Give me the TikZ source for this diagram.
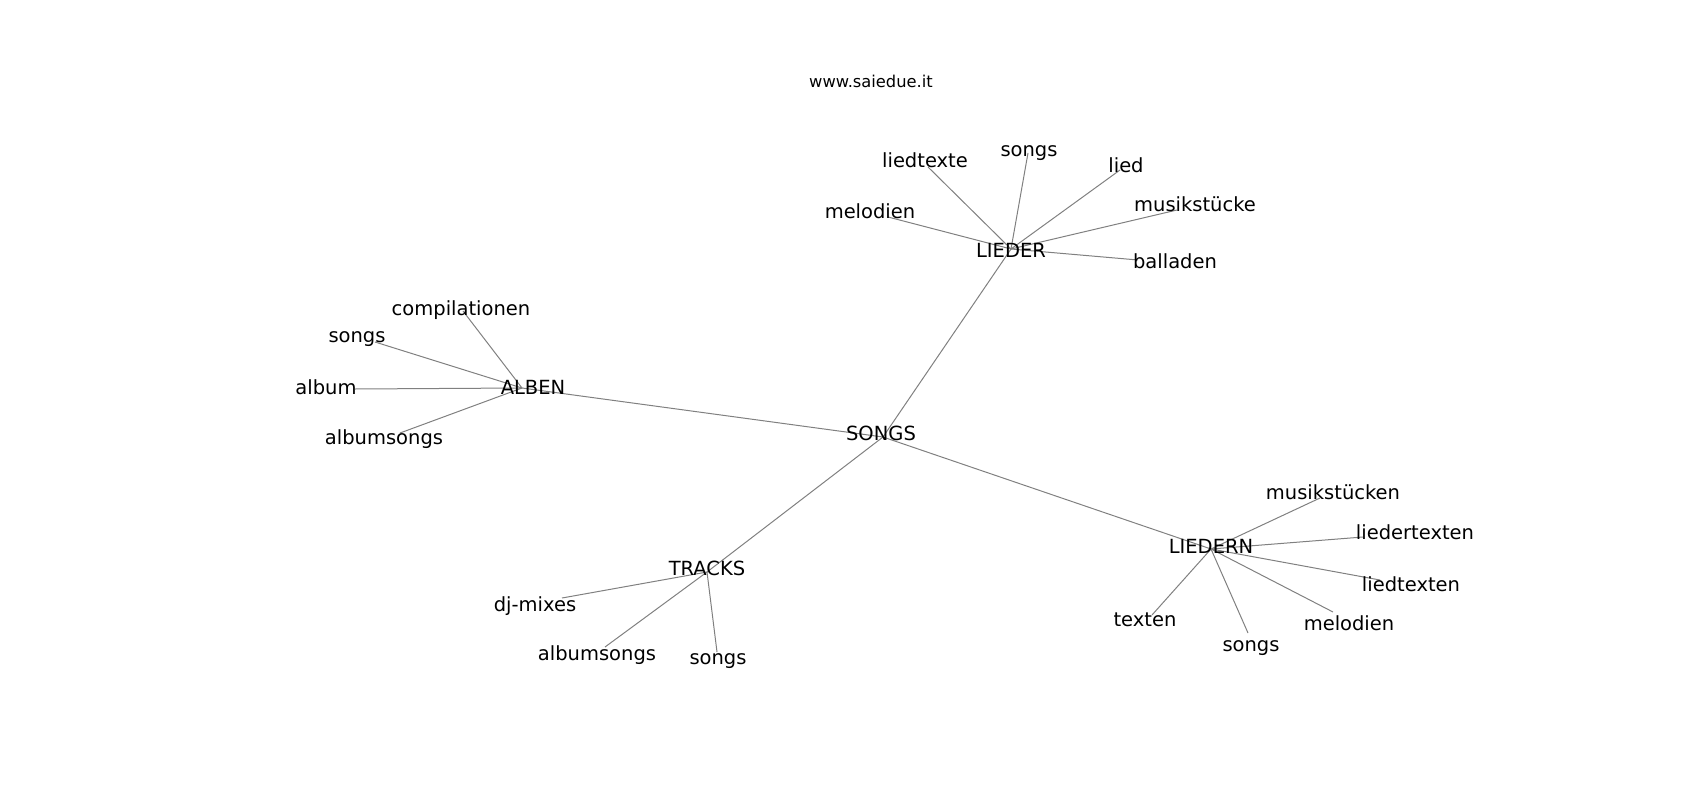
\documentclass[tikz,border=0pt]{standalone}
\usepackage{fontspec}
\setmainfont{DejaVu Sans}
\tikzstyle{word} = [inner sep=0pt, text height=14.8pt, text depth=0pt, font=\fontsize{19.5}{23}\selectfont]
\tikzstyle{title} = [inner sep=0pt, font=\fontsize{16.3}{19}\selectfont]
\tikzstyle{edge} = [draw=black!50, line width=1pt]

\begin{document}
\begin{tikzpicture}[x=1pt, y=-1pt]
        \useasboundingbox (0,0) rectangle (1700,800);
        \node (site) at (871,81) [title] {www.saiedue.it};
        % Graph points
        \coordinate (songs) at (883,437);
        \coordinate (lieder) at (1011,249);
        \coordinate (alben) at (522,388);
        \coordinate (tracks) at (707,572);
        \coordinate (liedern) at (1211,549);
        \coordinate (l1) at (928,167);
        \coordinate (l2) at (1028,153);
        \coordinate (l3) at (1120,170);
        \coordinate (l4) at (1177,210);
        \coordinate (l5) at (1138,260);
        \coordinate (l6) at (888,217);
        \coordinate (a1) at (463,311);
        \coordinate (a2) at (375,342);
        \coordinate (a3) at (355,389);
        \coordinate (a4) at (400,433);
        \coordinate (t1) at (562,598);
        \coordinate (t2) at (605,647);
        \coordinate (t3) at (717,652);
        \coordinate (n1) at (1320,498);
        \coordinate (n2) at (1363,537);
        \coordinate (n3) at (1380,580);
        \coordinate (n4) at (1333,612);
        \coordinate (n5) at (1248,633);
        \coordinate (n6) at (1152,615);
        \foreach \a/\b in {songs/lieder, songs/alben, songs/tracks, songs/liedern,
            lieder/l1, lieder/l2, lieder/l3, lieder/l4, lieder/l5, lieder/l6,
            alben/a1, alben/a2, alben/a3, alben/a4,
            tracks/t1, tracks/t2, tracks/t3,
            liedern/n1, liedern/n2, liedern/n3, liedern/n4, liedern/n5, liedern/n6}
            \draw [edge] (\a) -- (\b);
        % Hubs
        \node (songs-t) at (881,433) [word] {SONGS};
        \node (lieder-t) at (1011,250) [word] {LIEDER};
        \node (alben-t) at (533,387) [word] {ALBEN};
        \node (tracks-t) at (707,568) [word] {TRACKS};
        \node (liedern-t) at (1211,546) [word] {LIEDERN};
        % Around LIEDER
        \node (l1-t) at (925,160) [word] {liedtexte};
        \node (l2-t) at (1029,149) [word] {songs};
        \node (l3-t) at (1126,165) [word] {lied};
        \node (l4-t) at (1195,204) [word] {musikstücke};
        \node (l5-t) at (1175,261) [word] {balladen};
        \node (l6-t) at (870,211) [word] {melodien};
        % Around ALBEN
        \node (a1-t) at (461,308) [word] {compilationen};
        \node (a2-t) at (357,335) [word] {songs};
        \node (a3-t) at (326,387) [word] {album};
        \node (a4-t) at (384,437) [word] {albumsongs};
        % Around TRACKS
        \node (t1-t) at (535,604) [word] {dj-mixes};
        \node (t2-t) at (597,653) [word] {albumsongs};
        \node (t3-t) at (718,657) [word] {songs};
        % Around LIEDERN
        \node (n1-t) at (1333,492) [word] {musikstücken};
        \node (n2-t) at (1415,532) [word] {liedertexten};
        \node (n3-t) at (1411,584) [word] {liedtexten};
        \node (n4-t) at (1349,623) [word] {melodien};
        \node (n5-t) at (1251,644) [word] {songs};
        \node (n6-t) at (1145,619) [word] {texten};
    \end{tikzpicture}
\end{document}
